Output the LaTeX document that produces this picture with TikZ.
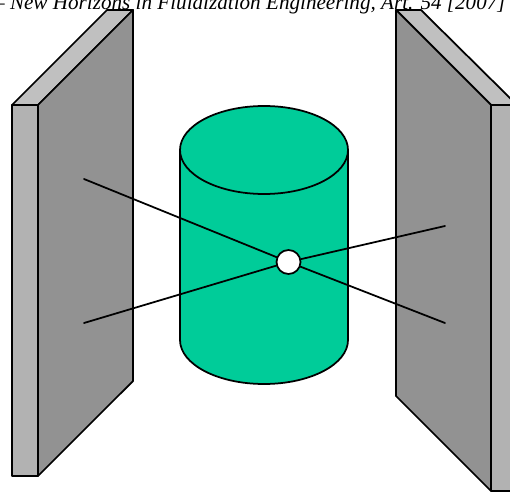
\documentclass[tikz,border=0pt]{standalone}
\usepackage{fontspec}
\setmainfont{Liberation Serif}
\definecolor{topgray}{HTML}{C0C0C0}
\definecolor{sidegray}{HTML}{B2B2B2}
\definecolor{facegray}{HTML}{929292}
\definecolor{bedgreen}{HTML}{00CC99}
\tikzset{
  every picture/.style={line join=round, line cap=round},
  edge/.style={line width=1pt},
}
\begin{document}
\begin{tikzpicture}
\useasboundingbox (0,0) rectangle (10.2,9.9);
\node[anchor=base east,inner sep=0pt,font=\itshape\fontsize{12.03}{14}\selectfont] (title) at (10.12,9.7) {– New Horizons in Fluidization Engineering, Art. 54 [2007]};
% left plate
\draw[edge,fill=topgray] (0.24,7.8)--(2.14,9.7)--(2.66,9.7)--(0.76,7.8)--cycle;
\draw[edge,fill=sidegray] (0.24,7.8)--(0.76,7.8)--(0.76,0.38)--(0.24,0.38)--cycle;
\draw[edge,fill=facegray] (0.76,7.8)--(2.66,9.7)--(2.66,2.28)--(0.76,0.38)--cycle;
% right plate
\begin{scope}
\clip (0,0) rectangle (10.2,9.9);
\draw[edge,fill=topgray] (7.92,9.7)--(8.42,9.7)--(10.34,7.8)--(9.82,7.8)--cycle;
\draw[edge,fill=sidegray] (9.82,7.8)--(10.34,7.8)--(10.34,0.08)--(9.82,0.08)--cycle;
\end{scope}
\draw[edge,fill=facegray] (7.92,9.7)--(9.82,7.8)--(9.82,0.08)--(7.92,1.98)--cycle;
% bed
\draw[edge,fill=bedgreen] (3.6,6.9)--(3.6,3.1) arc[start angle=180,end angle=360,x radius=1.68,y radius=0.88]--(6.96,6.9);
\draw[edge,fill=bedgreen] (5.28,6.9) ellipse[x radius=1.68,y radius=0.88];
% beams
\node[circle,draw,edge,fill=white,minimum size=0.48cm,inner sep=0pt] (hole) at (5.77,4.66) {};
\coordinate (srcA) at (1.68,6.32);
\coordinate (srcB) at (1.68,3.44);
\coordinate (detA) at (8.9,3.44);
\coordinate (detB) at (8.9,5.38);
\draw[edge] (srcA)--(hole);
\draw[edge] (srcB)--(hole);
\draw[edge] (hole)--(detA);
\draw[edge] (hole)--(detB);
\end{tikzpicture}
\end{document}
